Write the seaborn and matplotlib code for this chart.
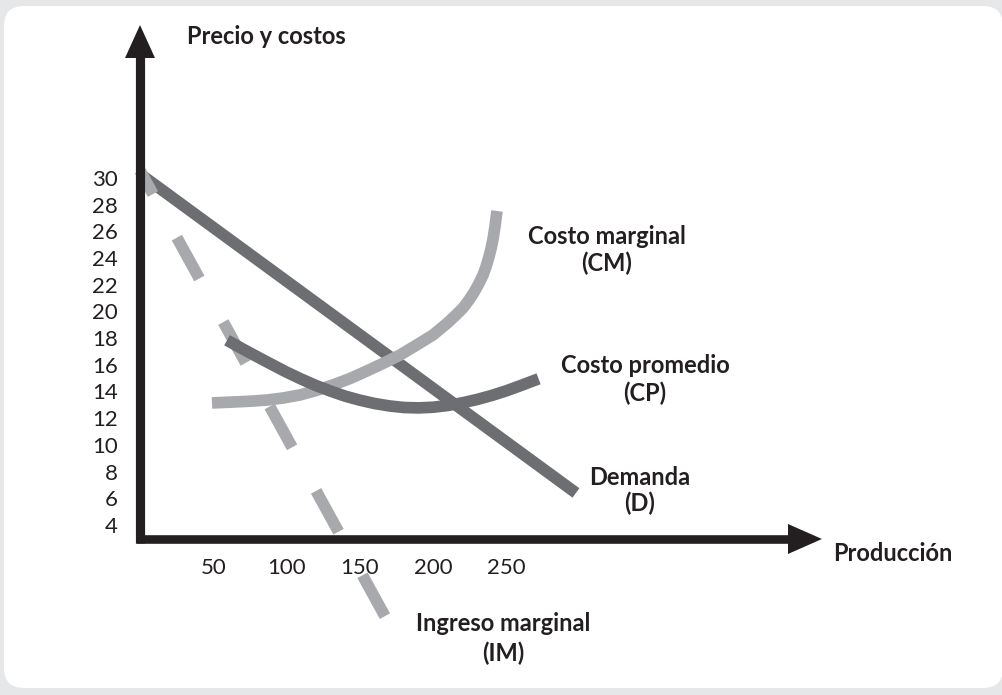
import matplotlib
matplotlib.use("Agg")
import matplotlib.pyplot as plt
import seaborn as sns
from matplotlib.patches import FancyBboxPatch, Polygon

# ---- data (production on x, price and costs on y) ----
y_ticks = [4, 6, 8, 10, 12, 14, 16, 18, 20, 22, 24, 26, 28, 30]
x_ticks = [50, 100, 150, 200, 250]

demand_x = [0.0, 297.5]
demand_y = [30.3, 6.4]

mr_x = [0.0, 167.5]
mr_y = [30.55, -2.9]

mc_x = [49.1, 63.5, 75.1, 86.7, 97.6, 109.2, 120.1, 131.7, 143.3, 154.9, 165.8,
        177.4, 188.3, 199.9, 210.2, 215.6, 220.4, 224.5, 227.9, 231.3, 234.1,
        236.1, 238.1, 239.5, 240.9, 242.2, 243.6]
mc_y = [13.14, 13.21, 13.27, 13.36, 13.51, 13.74, 14.07, 14.49, 14.97, 15.54, 16.10,
        16.73, 17.45, 18.23, 19.17, 19.73, 20.25, 20.85, 21.42, 22.09, 22.73,
        23.33, 24.07, 24.67, 25.42, 26.32, 27.52]

ac_x = [59.4, 70, 80, 90, 100, 110, 120, 130, 140, 150, 160, 170, 180, 190,
        200, 210, 220, 230, 240, 250, 260, 272]
ac_y = [17.84, 17.19, 16.60, 16.02, 15.45, 14.93, 14.45, 14.03, 13.65, 13.35, 13.10,
        12.92, 12.80, 12.77, 12.82, 12.95, 13.15, 13.40, 13.70, 14.05, 14.45, 14.95]

DARK = "#6d6e71"
LIGHT = "#a7a9ac"
INK = "#231f20"

sns.set_theme(style="white")
plt.rcParams["font.family"] = ["Lato", "DejaVu Sans"]
plt.rcParams["lines.scale_dashes"] = False

W, H = 1003, 695
fig = plt.figure(figsize=(W / 100, H / 100), dpi=100, facecolor="#e6e7e8")

# white rounded card behind the chart
card = FancyBboxPatch((0.04, 0.07), 9.99, 6.82,
                      boxstyle="round,pad=0,rounding_size=0.2",
                      transform=fig.dpi_scale_trans,
                      facecolor="white", edgecolor="none", zorder=-5)
fig.patches.append(card)

# axes box: origin at the corner of the two arrows
L, R, T, B = 140, 822, 25, 539
ax = fig.add_axes([L / W, (H - B) / H, (R - L) / W, (B - T) / H])
ax.set_zorder(1)
ax.patch.set_visible(False)
ax.set_xlim(0, 465.4)
ax.set_ylim(2.95, 41.45)
for s in ax.spines.values():
    s.set_visible(False)

LW = 8.4
common = dict(ax=ax, sort=False, estimator=None, clip_on=False,
              solid_capstyle="butt", solid_joinstyle="round")

sns.lineplot(x=demand_x, y=demand_y, color=DARK, linewidth=LW, zorder=2, **common)
sns.lineplot(x=mr_x, y=mr_y, color=LIGHT, linewidth=LW, zorder=3, **common)
mr_line = ax.lines[-1]
mr_line.set_linestyle((14.2, (33.55, 35.8)))
mr_line.set_dash_capstyle("butt")
sns.lineplot(x=mc_x, y=mc_y, color=LIGHT, linewidth=LW, zorder=4, **common)
sns.lineplot(x=ac_x, y=ac_y, color=DARK, linewidth=LW, zorder=5, **common)

# axis arrows
fx = lambda px: (px - L) / (R - L)
fy = lambda py: (B - py) / (B - T)
ax.plot([0, 0], [fy(543), fy(56)], transform=ax.transAxes, color=INK,
        lw=6.6, solid_capstyle="butt", clip_on=False, zorder=10)
ax.plot([fx(136), fx(790)], [0, 0], transform=ax.transAxes, color=INK,
        lw=6.2, solid_capstyle="butt", clip_on=False, zorder=10)
ax.add_patch(Polygon([(fx(125), fy(58)), (fx(155), fy(58)), (fx(140), fy(25))],
                     closed=True, transform=ax.transAxes, facecolor=INK,
                     edgecolor="none", clip_on=False, zorder=11))
ax.add_patch(Polygon([(fx(788), fy(524)), (fx(788), fy(554)), (fx(822), fy(539))],
                     closed=True, transform=ax.transAxes, facecolor=INK,
                     edgecolor="none", clip_on=False, zorder=11))

# ticks
ax.set_yticks(y_ticks)
ax.set_yticklabels([str(v) for v in y_ticks])
ax.set_xticks(x_ticks)
ax.set_xticklabels([str(v) for v in x_ticks])
ax.tick_params(axis="y", length=0, pad=16, labelsize=16, labelcolor=INK)
ax.tick_params(axis="x", length=0, pad=13.5, labelsize=16, labelcolor=INK)
ax.set_xlabel("")
ax.set_ylabel("")

# labels
lab = dict(fontsize=17, fontweight="bold", color=INK, va="baseline", clip_on=False)
ax.text(32.1, 40.05, "Precio y costos", ha="left", **lab)
ax.text(318.7, 25.07, "Costo marginal", ha="center", **lab)
ax.text(318.7, 23.03, "(CM)", ha="center", **lab)
ax.text(344.6, 15.39, "Costo promedio", ha="center", **lab)
ax.text(344.6, 13.27, "(CP)", ha="center", **lab)
ax.text(341.2, 7.02, "Demanda", ha="center", **lab)
ax.text(341.2, 5.05, "(D)", ha="center", **lab)
ax.text(513.8, 1.30, "Producción", ha="center", **lab)
ax.text(247.7, -3.94, "Ingreso marginal", ha="center", **lab)
ax.text(247.7, -6.19, "(IM)", ha="center", **lab)

fig.savefig("out.png", dpi=100, facecolor=fig.get_facecolor())
